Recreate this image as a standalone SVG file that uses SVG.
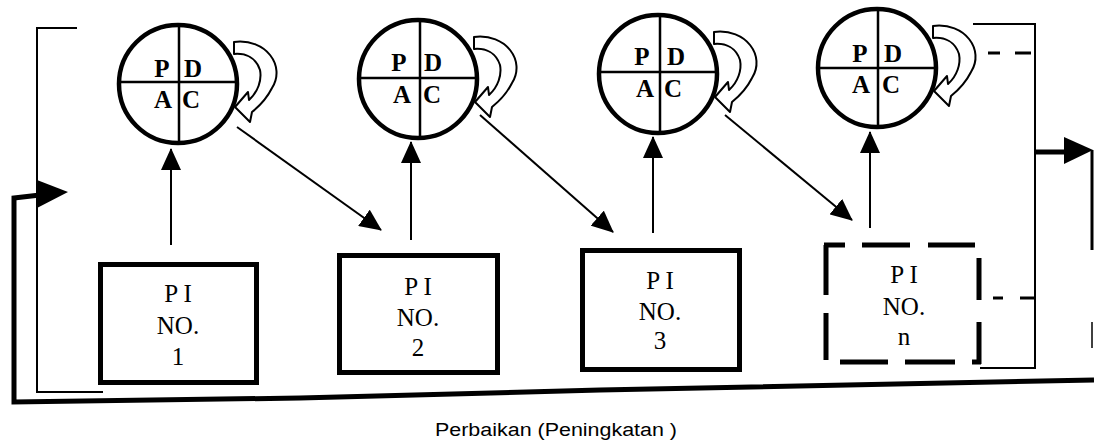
<svg xmlns="http://www.w3.org/2000/svg" xmlns:xlink="http://www.w3.org/1999/xlink" width="1094" height="441" viewBox="0 0 1094 441">
<style>
.circ{fill:#fff;stroke:#000;stroke-width:4.5}
.cross{stroke:#000;stroke-width:2.5;fill:none}
.pdca{font-family:"Liberation Serif","Times New Roman",serif;font-weight:bold;font-size:25px;text-anchor:middle;fill:#000}
.box{fill:#fff;stroke:#000;stroke-width:5}
.dbox{fill:none;stroke:#000;stroke-width:5}
.lbl{font-family:"Liberation Serif","Times New Roman",serif;font-size:25px;text-anchor:middle;fill:#000}
.thin{fill:none;stroke:#000;stroke-width:2}
.thick{fill:none;stroke:#000;stroke-width:5}
.loop{fill:#fff;stroke:#000;stroke-width:2;stroke-linejoin:round}
.cap{font-family:"Liberation Sans",Arial,sans-serif;font-size:18px;fill:#000}
</style>
<defs>
<marker id="ah" markerUnits="userSpaceOnUse" markerWidth="22" markerHeight="20" refX="21" refY="10" orient="auto" viewBox="0 0 22 20">
<path d="M0,0 L22,10 L0,20 Z" fill="#000"/>
</marker>
<path id="loopArrow" class="loop" d="M56,-42 C88,-46 108,-18 94,4 C90,12 84,20 74,28 L72,38 L57,23 L70,8 L71,16 C80,8 84,-4 82,-14 C78,-26 68,-31 56,-30 Z"/>
</defs>

<g id="connectors">
<path class="thin" d="M77,28 L37,28 L37,392 L103,392"/>
<path class="thick" d="M40,195 L14,198 L14,402 L300,398 L600,390 L1094,380"/>
<path d="M37,180 L68,192 L37,208 Z" fill="#000"/>
<path class="thin" d="M973,24 L1035,24 L1035,368 L980,368"/>
<path class="thick" d="M1036,152 L1066,152"/>
<path d="M1064,137 L1093,150 L1064,164 Z" fill="#000"/>
<path d="M1092,150 L1092,250" stroke="#000" stroke-width="3"/>
<path d="M1092,322 L1092,348" stroke="#000" stroke-width="1.5"/>
<path d="M988,53 L1000,53 M1015,53 L1031,53" stroke="#000" stroke-width="3"/>
<path d="M993,298 L1003,298 M1020,298 L1035,298" stroke="#000" stroke-width="3"/>
<line class="thin" x1="171" y1="245" x2="171" y2="149" marker-end="url(#ah)"/>
<line class="thin" x1="411" y1="240" x2="411" y2="142" marker-end="url(#ah)"/>
<line class="thin" x1="653" y1="233" x2="653" y2="137" marker-end="url(#ah)"/>
<line class="thin" x1="870" y1="228" x2="870" y2="132" marker-end="url(#ah)"/>
<line class="thin" x1="237" y1="127" x2="381" y2="230" marker-end="url(#ah)"/>
<line class="thin" x1="480" y1="115" x2="613" y2="232" marker-end="url(#ah)"/>
<line class="thin" x1="725" y1="115" x2="852" y2="220" marker-end="url(#ah)"/>
</g>

<g id="pdca1">
<circle class="circ" cx="178" cy="84" r="59"/>
<path class="cross" d="M119,82 H237 M179,25 V143"/>
<text class="pdca" x="162" y="77">P</text><text class="pdca" x="193" y="77">D</text>
<text class="pdca" x="163" y="108">A</text><text class="pdca" x="191" y="108">C</text>
<use xlink:href="#loopArrow" x="178" y="84"/>
</g>
<g id="pdca2">
<circle class="circ" cx="418" cy="79" r="59"/>
<path class="cross" d="M359,78 H477 M420,20 V138"/>
<text class="pdca" x="399" y="71">P</text><text class="pdca" x="433" y="71">D</text>
<text class="pdca" x="402" y="103">A</text><text class="pdca" x="432" y="103">C</text>
<use xlink:href="#loopArrow" x="418" y="79"/>
</g>
<g id="pdca3">
<circle class="circ" cx="658" cy="74" r="59"/>
<path class="cross" d="M599,72 H717 M660,15 V133"/>
<text class="pdca" x="642" y="65">P</text><text class="pdca" x="676" y="65">D</text>
<text class="pdca" x="645" y="97">A</text><text class="pdca" x="673" y="97">C</text>
<use xlink:href="#loopArrow" x="658" y="74"/>
</g>
<g id="pdca4">
<circle class="circ" cx="877" cy="68" r="59"/>
<path class="cross" d="M818,68 H936 M878,9 V127"/>
<text class="pdca" x="860" y="62">P</text><text class="pdca" x="893" y="62">D</text>
<text class="pdca" x="861" y="93">A</text><text class="pdca" x="891" y="93">C</text>
<use xlink:href="#loopArrow" x="877" y="68"/>
</g>

<g id="pi1">
<rect class="box" x="100.5" y="264.5" width="156" height="118"/>
<text class="lbl" x="178" y="302">P I</text>
<text class="lbl" x="178" y="334">NO.</text>
<text class="lbl" x="178" y="365">1</text>
</g>
<g id="pi2">
<rect class="box" x="339.5" y="255.5" width="158" height="117"/>
<text class="lbl" x="418" y="295">P I</text>
<text class="lbl" x="418" y="326">NO.</text>
<text class="lbl" x="418" y="356">2</text>
</g>
<g id="pi3">
<rect class="box" x="582.5" y="250.5" width="157" height="119"/>
<text class="lbl" x="660" y="289">P I</text>
<text class="lbl" x="660" y="320">NO.</text>
<text class="lbl" x="660" y="349">3</text>
</g>
<g id="pin">
<path class="dbox" d="M824,245 H845 M862,245 H910 M928,245 H975 M826,245 V295 M826,313 V360 M979,258 V300 M979,322 V364 M840,362 H888 M905,362 H955 M972,362 H981"/>
<text class="lbl" x="904" y="283">P I</text>
<text class="lbl" x="904" y="315">NO.</text>
<text class="lbl" x="904" y="345">n</text>
</g>

<g id="caption">
<text class="cap" x="435" y="436" textLength="242" lengthAdjust="spacingAndGlyphs">Perbaikan (Peningkatan )</text>
</g>
</svg>
